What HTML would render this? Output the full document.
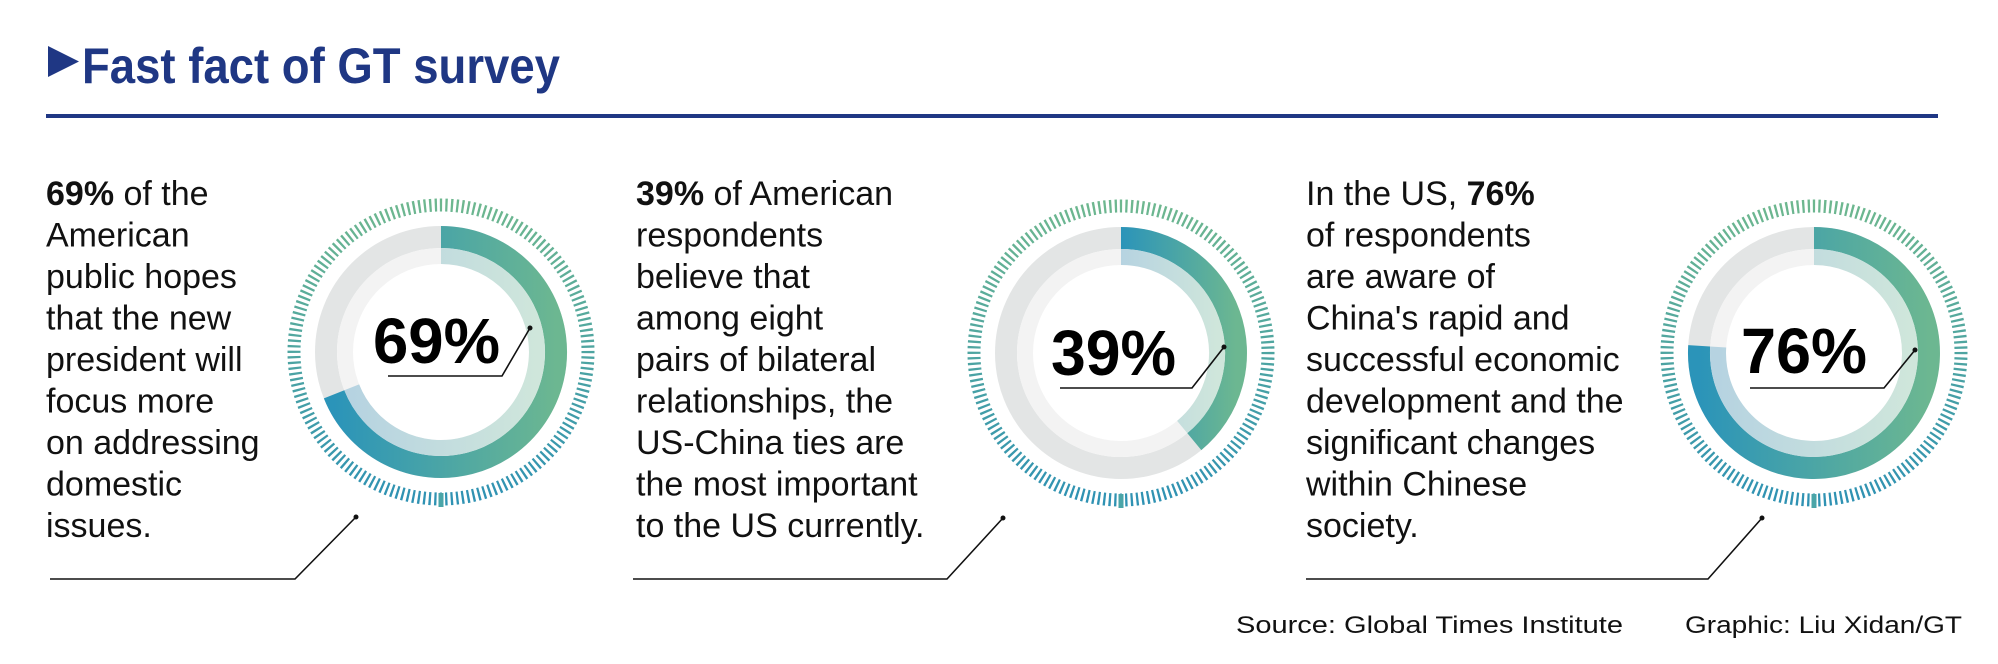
<!DOCTYPE html>
<html><head><meta charset="utf-8"><style>
html,body{margin:0;padding:0;background:#fff;}
svg{display:block;}
text{font-family:"Liberation Sans",sans-serif;}
.b{font-size:34px;fill:#111;}
.n{font-size:64px;font-weight:bold;fill:#000;}
.s{font-size:24px;fill:#111;}
</style></head><body>
<svg width="1998" height="664" viewBox="0 0 1998 664" xmlns="http://www.w3.org/2000/svg">
<defs>
<linearGradient id="g" x1="0" y1="0" x2="1" y2="0"><stop offset="0" stop-color="#2b94b9"/><stop offset="1" stop-color="#6cb791"/></linearGradient>
<linearGradient id="gl" x1="0" y1="0" x2="1" y2="0"><stop offset="0" stop-color="#b6d3e1"/><stop offset="1" stop-color="#cfe6db"/></linearGradient>
<linearGradient id="gt" x1="0" y1="0" x2="1" y2="0"><stop offset="0" stop-color="#2f92b3"/><stop offset="1" stop-color="#6db78f"/></linearGradient>
</defs>
<polygon points="48,46 48,77 79,61.5" fill="#1f3784"/>
<text x="82" y="83" font-size="50" font-weight="bold" fill="#1f3784" textLength="478" lengthAdjust="spacingAndGlyphs">Fast fact of GT survey</text>
<rect x="46" y="114" width="1892" height="4" fill="#1f3784"/>

<g class="b">
<text x="46" y="205"><tspan font-weight="bold">69%</tspan> of the</text>
<text x="46" y="246.5">American</text>
<text x="46" y="288">public hopes</text>
<text x="46" y="329.5">that the new</text>
<text x="46" y="371">president will</text>
<text x="46" y="412.5">focus more</text>
<text x="46" y="454">on addressing</text>
<text x="46" y="495.5">domestic</text>
<text x="46" y="537">issues.</text>
</g>
<polyline points="50,579 295,579 356,517" fill="none" stroke="#111" stroke-width="1.6"/>
<circle cx="356" cy="517" r="2.5" fill="#111"/>

<g>
<circle cx="441" cy="352" r="147" fill="none" stroke="url(#gt)" stroke-width="13" stroke-dasharray="2.3 3.1976" transform="rotate(-90.45 441 352)"/>
<rect x="438.5" y="493" width="5" height="14" fill="#4aa5a8"/>
<circle cx="441" cy="352" r="115" fill="none" stroke="#e3e5e5" stroke-width="22"/>
<circle cx="441" cy="352" r="96" fill="none" stroke="#f3f3f3" stroke-width="16"/>
<path d="M441,237 A115,115 0 1 1 334.1,394.3" fill="none" stroke="url(#g)" stroke-width="22"/>
<path d="M441,256 A96,96 0 1 1 351.7,387.3" fill="none" stroke="url(#gl)" stroke-width="16"/>
<text class="n" x="373" y="363" textLength="127" lengthAdjust="spacingAndGlyphs">69%</text>
<polyline points="388,376 502,376 530,328" fill="none" stroke="#111" stroke-width="1.6"/>
<circle cx="530" cy="328" r="2.5" fill="#111"/>
</g>

<g class="b">
<text x="636" y="205"><tspan font-weight="bold">39%</tspan> of American</text>
<text x="636" y="246.5">respondents</text>
<text x="636" y="288">believe that</text>
<text x="636" y="329.5">among eight</text>
<text x="636" y="371">pairs of bilateral</text>
<text x="636" y="412.5">relationships, the</text>
<text x="636" y="454">US-China ties are</text>
<text x="636" y="495.5">the most important</text>
<text x="636" y="537">to the US currently.</text>
</g>
<polyline points="633,579 947,579 1003,518" fill="none" stroke="#111" stroke-width="1.6"/>
<circle cx="1003" cy="518" r="2.5" fill="#111"/>

<g>
<circle cx="1121" cy="353" r="147" fill="none" stroke="url(#gt)" stroke-width="13" stroke-dasharray="2.3 3.1976" transform="rotate(-90.45 1121 353)"/>
<rect x="1118.5" y="494" width="5" height="14" fill="#4aa5a8"/>
<circle cx="1121" cy="353" r="115" fill="none" stroke="#e3e5e5" stroke-width="22"/>
<circle cx="1121" cy="353" r="96" fill="none" stroke="#f3f3f3" stroke-width="16"/>
<path d="M1121,238 A115,115 0 0 1 1194.3,441.6" fill="none" stroke="url(#g)" stroke-width="22"/>
<path d="M1121,257 A96,96 0 0 1 1182.2,427" fill="none" stroke="url(#gl)" stroke-width="16"/>
<text class="n" x="1051" y="375" textLength="125" lengthAdjust="spacingAndGlyphs">39%</text>
<polyline points="1060,388 1192,388 1224,347" fill="none" stroke="#111" stroke-width="1.6"/>
<circle cx="1224" cy="347" r="2.5" fill="#111"/>
</g>

<g class="b">
<text x="1306" y="205">In the US, <tspan font-weight="bold">76%</tspan></text>
<text x="1306" y="246.5">of respondents</text>
<text x="1306" y="288">are aware of</text>
<text x="1306" y="329.5">China's rapid and</text>
<text x="1306" y="371">successful economic</text>
<text x="1306" y="412.5">development and the</text>
<text x="1306" y="454">significant changes</text>
<text x="1306" y="495.5">within Chinese</text>
<text x="1306" y="537">society.</text>
</g>
<polyline points="1306,579 1708,579 1762,518" fill="none" stroke="#111" stroke-width="1.6"/>
<circle cx="1762" cy="518" r="2.5" fill="#111"/>

<g>
<circle cx="1814" cy="353" r="147" fill="none" stroke="url(#gt)" stroke-width="13" stroke-dasharray="2.3 3.1976" transform="rotate(-90.45 1814 353)"/>
<rect x="1811.5" y="494" width="5" height="14" fill="#4aa5a8"/>
<circle cx="1814" cy="353" r="115" fill="none" stroke="#e3e5e5" stroke-width="22"/>
<circle cx="1814" cy="353" r="96" fill="none" stroke="#f3f3f3" stroke-width="16"/>
<path d="M1814,238 A115,115 0 1 1 1699.2,345.8" fill="none" stroke="url(#g)" stroke-width="22"/>
<path d="M1814,257 A96,96 0 1 1 1718.2,347" fill="none" stroke="url(#gl)" stroke-width="16"/>
<text class="n" x="1741" y="373" textLength="126" lengthAdjust="spacingAndGlyphs">76%</text>
<polyline points="1750,388 1884,388 1915,350" fill="none" stroke="#111" stroke-width="1.6"/>
<circle cx="1915" cy="350" r="2.5" fill="#111"/>
</g>

<text class="s" x="1236" y="633" textLength="387" lengthAdjust="spacingAndGlyphs">Source: Global Times Institute</text>
<text class="s" x="1685" y="633" textLength="277" lengthAdjust="spacingAndGlyphs">Graphic: Liu Xidan/GT</text>
</svg>
</body></html>
